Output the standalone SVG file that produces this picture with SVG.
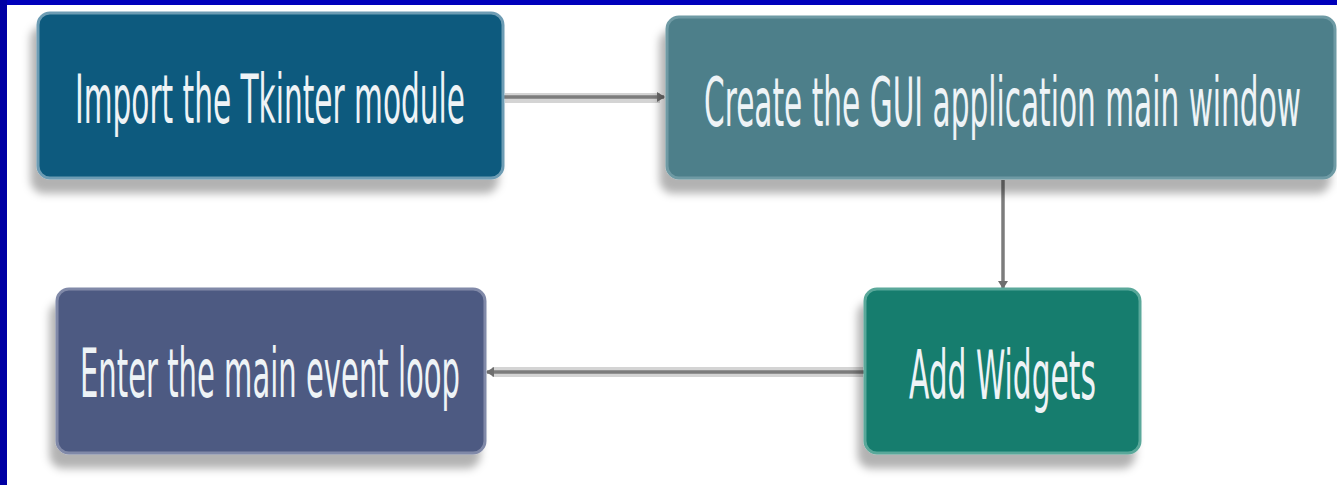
<svg xmlns="http://www.w3.org/2000/svg" width="1337" height="485" viewBox="0 0 1337 485">
  <defs>
    <filter id="shadow" x="-10%" y="-20%" width="120%" height="150%">
      <feDropShadow dx="-6" dy="14" stdDeviation="4" flood-color="#000" flood-opacity="0.3"/>
    </filter>
    <marker id="arrow" viewBox="0 0 8 10" refX="7" refY="5" markerWidth="8" markerHeight="10" markerUnits="userSpaceOnUse" orient="auto">
      <path d="M0,0 L8,5 L0,10 z" fill="#6e6e6e"/>
    </marker>
  </defs>
  <style>
    .box { stroke-width: 3; filter: url(#shadow); }
    .label { font-family: "DejaVu Sans Condensed", "DejaVu Sans", "Liberation Sans", sans-serif; font-size: 33px; fill: #eef3f6; }
    .halo { stroke: #d4d4d4; stroke-width: 10; fill: none; }
    .line { stroke: #7c7c7c; stroke-width: 3.5; fill: none; marker-end: url(#arrow); }
  </style>
  <rect x="0" y="0" width="1337" height="485" fill="#ffffff"/>
  <rect x="0" y="0" width="1337" height="5" fill="#0000bb"/>
  <rect x="0" y="0" width="7" height="485" fill="#0000a4"/>

  <g id="connectors">
    <path class="halo" d="M505,98 L660,98"/>
    <path class="halo" d="M863,372 L492,372"/>
    <path class="line" d="M503,97 L664,97"/>
    <path class="line" d="M1003,180 L1003,288"/>
    <path class="line" d="M865,372 L487,372"/>
  </g>

  <g id="node-import">
    <rect class="box" x="38" y="13" width="465" height="165" rx="12" fill="#0b5a7e" stroke="#6d9cb4"/>
    <text class="label" transform="translate(75,123) scale(1,2.03)" x="0" y="0" textLength="390" lengthAdjust="spacingAndGlyphs">Import the Tkinter module</text>
  </g>

  <g id="node-create">
    <rect class="box" x="667" y="17" width="668" height="161" rx="12" fill="#4e7f8a" stroke="#6e9aa4"/>
    <text class="label" transform="translate(704,126) scale(1,2.03)" x="0" y="0" textLength="597" lengthAdjust="spacingAndGlyphs">Create the GUI application main window</text>
  </g>

  <g id="node-widgets">
    <rect class="box" x="865" y="289" width="275" height="164" rx="12" fill="#127d6e" stroke="#5aa89a"/>
    <text class="label" transform="translate(909,399) scale(1,2.03)" x="0" y="0" textLength="187" lengthAdjust="spacingAndGlyphs">Add Widgets</text>
  </g>

  <g id="node-loop">
    <rect class="box" x="57" y="289" width="428" height="164" rx="12" fill="#4e5a82" stroke="#8089a8"/>
    <text class="label" transform="translate(80,397) scale(1,2.03)" x="0" y="0" textLength="380" lengthAdjust="spacingAndGlyphs">Enter the main event loop</text>
  </g>
</svg>
